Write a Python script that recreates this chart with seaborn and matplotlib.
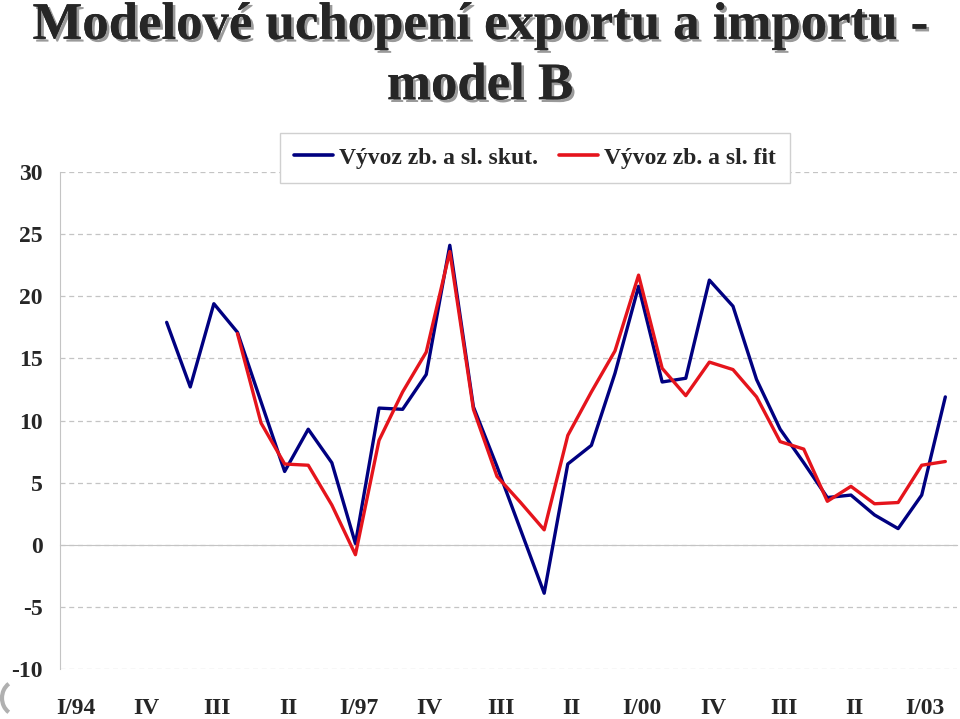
import numpy as np
import pandas as pd
import matplotlib
matplotlib.use('Agg')
import matplotlib.pyplot as plt
import matplotlib.patheffects as pe
from matplotlib.patches import Arc
import seaborn as sns

# ── data ─────────────────────────────────────────────────────
quarters = ['I/94', 'II', 'III', 'IV', 'I/95', 'II', 'III', 'IV',
            'I/96', 'II', 'III', 'IV', 'I/97', 'II', 'III', 'IV',
            'I/98', 'II', 'III', 'IV', 'I/99', 'II', 'III', 'IV',
            'I/00', 'II', 'III', 'IV', 'I/01', 'II', 'III', 'IV',
            'I/02', 'II', 'III', 'IV', 'I/03', 'II']

# Vývoz zb. a sl. skut. (actual) – starts I/95
skut = [np.nan, np.nan, np.nan, np.nan,
        17.9, 12.7, 19.4, 17.1, 11.5, 5.9, 9.3, 6.6,
        0.1, 11.0, 10.9, 13.7, 24.1, 11.1, 6.3, 1.2,
        -3.9, 6.5, 8.0, 13.8, 20.8, 13.1, 13.4, 21.3,
        19.2, 13.3, 9.3, 6.6, 3.8, 4.0, 2.4, 1.3, 4.0, 11.9]

# Vývoz zb. a sl. fit – starts IV/95
fit = [np.nan, np.nan, np.nan, np.nan, np.nan, np.nan, np.nan,
       17.0, 9.8, 6.5, 6.4, 3.2, -0.8, 8.4, 12.3, 15.5,
       23.6, 10.9, 5.5, 3.4, 1.2, 8.8, 12.3, 15.6,
       21.7, 14.2, 12.0, 14.7, 14.1, 11.9, 8.3, 7.7,
       3.5, 4.7, 3.3, 3.4, 6.4, 6.7]

series_names = ['Vývoz zb. a sl. skut.', 'Vývoz zb. a sl. fit']
tick_labels = ['I/94', 'IV', 'III', 'II', 'I/97', 'IV', 'III', 'II',
               'I/00', 'IV', 'III', 'II', 'I/03']
tick_pos = np.arange(0, len(quarters), 3)

NAVY = '#000080'
RED = '#e5141c'
GRID = '#c4c4c4'

df = pd.DataFrame({
    'q': np.tile(np.arange(len(quarters)), 2),
    'val': skut + fit,
    'serie': [series_names[0]] * len(quarters) + [series_names[1]] * len(quarters),
}).dropna()

# ── style ────────────────────────────────────────────────────
sns.set_style('white')
plt.rcParams['font.family'] = ['Liberation Serif', 'DejaVu Serif']
plt.rcParams['font.weight'] = 'bold'

fig = plt.figure(figsize=(9.6, 7.19), dpi=100)
ax = fig.add_axes([0.063, 0.0695, 0.934, 0.6913])

sns.lineplot(data=df, x='q', y='val', hue='serie', palette=[NAVY, RED],
             hue_order=series_names, lw=2.4, ax=ax, sort=False)

ax.set_xlim(-0.5, len(quarters) - 0.5)
ax.set_ylim(-10, 30)
ax.set_yticks(np.arange(-10, 31, 5))
ax.set_yticklabels([f'{v}' for v in range(-10, 31, 5)], fontsize=17,
                   fontweight='bold')
ax.yaxis.grid(True, color=GRID, ls=(0, (4, 3)), lw=0.9)
ax.set_axisbelow(True)
ax.tick_params(axis='y', length=6, color=GRID, pad=7, direction='out')

for s in ['top', 'right']:
    ax.spines[s].set_visible(False)
ax.spines['left'].set_color(GRID)
ax.spines['bottom'].set_color(GRID)
ax.spines['bottom'].set_position(('data', 0))
ax.spines['bottom'].set_zorder(1)

# category ticks on zero line, labels at the bottom
ax.set_xticks(np.arange(-0.5, len(quarters), 1), minor=True)
ax.tick_params(axis='x', which='minor', length=6, color=GRID, direction='out')
ax.set_xticks(tick_pos + 0.15)
ax.set_xticklabels(tick_labels, fontsize=17, fontweight='bold')
ax.tick_params(axis='x', which='major', length=0, pad=110)
ax.set_xlabel('')
ax.set_ylabel('')

# legend
h, l = ax.get_legend_handles_labels()
leg = ax.legend(h, l, ncol=2, loc='upper left',
                bbox_to_anchor=(0.2917, 0.815), bbox_transform=fig.transFigure,
                fontsize=17, frameon=True, fancybox=False, framealpha=1,
                edgecolor='#d0d0d0', handlelength=1.65, handletextpad=0.25,
                columnspacing=0.9, borderpad=0.6, borderaxespad=0)
leg.get_frame().set_linewidth(1.0)
for t in leg.get_texts():
    t.set_fontweight('bold')
for ln in leg.get_lines():
    ln.set_linewidth(2.6)

# title with grey drop shadow
shadow = [pe.withSimplePatchShadow(offset=(2, -2), shadow_rgbFace='#9a9a9a', alpha=1),
          pe.Normal()]
fig.text(0.5, 0.946, 'Modelové uchopení exportu a importu -', ha='center',
         va='baseline', fontsize=38, fontweight='bold', path_effects=shadow)
fig.text(0.5, 0.862, 'model B', ha='center', va='baseline', fontsize=38,
         fontweight='bold', path_effects=shadow)

# small grey arc in the bottom-left corner
arc = Arc((17, 21), 30, 34, theta1=120, theta2=240, transform=None,
          color='#b0b0b0', lw=3)
fig.add_artist(arc)

fig.savefig('out.png', dpi=100, facecolor='white')
